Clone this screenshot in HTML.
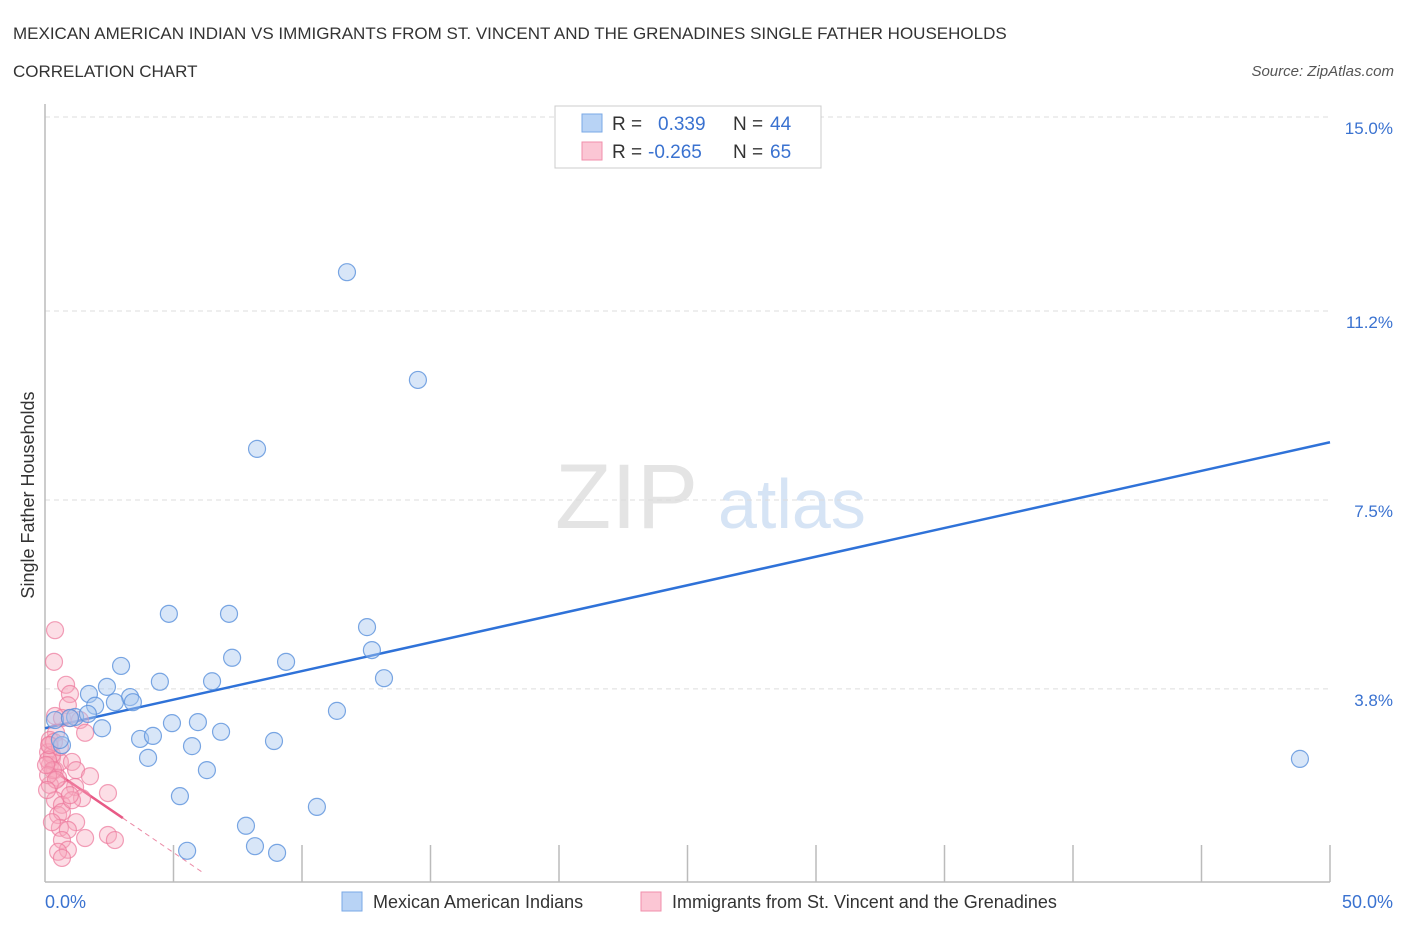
<!DOCTYPE html>
<html><head><meta charset="utf-8"><style>
body{margin:0;background:#fff;font-family:"Liberation Sans",Arial,sans-serif;}
svg text{font-family:"Liberation Sans",Arial,sans-serif;}
</style></head><body>
<svg id="chart" width="1406" height="930" xmlns="http://www.w3.org/2000/svg">
<text x="13" y="39" font-size="17" fill="#333">MEXICAN AMERICAN INDIAN VS IMMIGRANTS FROM ST. VINCENT AND THE GRENADINES SINGLE FATHER HOUSEHOLDS</text>
<text x="13" y="77" font-size="17" fill="#333">CORRELATION CHART</text>
<text x="1394" y="76" font-size="15" fill="#555" font-style="italic" text-anchor="end">Source: ZipAtlas.com</text>
<text x="555" y="528" font-size="92" fill="#e4e4e4" font-family="Liberation Serif">ZIP</text>
<text x="718" y="528" font-size="70" fill="#d6e4f5">atlas</text>
<text transform="translate(34,495) rotate(-90)" font-size="18" fill="#333" text-anchor="middle">Single Father Households</text>
<g id="grid"></g><g id="axes"></g><g id="trend"></g><g id="points"></g>
<g>
<rect x="555" y="106" width="266" height="62" fill="#fff" stroke="#ccc"/>
<rect x="582" y="114" width="20" height="18" fill="#b8d3f5" stroke="#7aa8e6"/>
<rect x="582" y="142" width="20" height="18" fill="#fbc6d4" stroke="#f08fab"/>
<text x="612" y="130" font-size="19" fill="#333">R = </text><text x="658" y="130" font-size="19" fill="#3a72d0">0.339</text>
<text x="733" y="130" font-size="19" fill="#333">N = </text><text x="770" y="130" font-size="19" fill="#3a72d0">44</text>
<text x="612" y="158" font-size="19" fill="#333">R = </text><text x="648" y="158" font-size="19" fill="#3a72d0">-0.265</text>
<text x="733" y="158" font-size="19" fill="#333">N = </text><text x="770" y="158" font-size="19" fill="#3a72d0">65</text>
</g>
<g>
<rect x="342" y="892" width="20" height="19" fill="#b8d3f5" stroke="#7aa8e6"/>
<text x="373" y="908" font-size="18" fill="#333">Mexican American Indians</text>
<rect x="641" y="892" width="20" height="19" fill="#fbc6d4" stroke="#f08fab"/>
<text x="672" y="908" font-size="18" fill="#333">Immigrants from St. Vincent and the Grenadines</text>
</g>
</svg>
<script>
const blueX=[29.26,11.75,14.51,8.25,4.82,7.16,12.53,12.72,7.28,9.38,2.96,13.19,4.47,6.50,2.41,1.71,3.31,2.72,3.42,1.95,11.36,1.17,1.67,4.94,5.95,2.22,6.85,3.70,4.20,8.91,5.72,0.66,4.01,6.30,48.83,5.25,10.58,7.82,5.53,8.17,9.03,0.58,0.39,0.97];
const blueY=[14.82,11.98,9.87,8.52,5.29,5.29,5.03,4.58,4.43,4.35,4.27,4.03,3.96,3.97,3.86,3.72,3.66,3.56,3.56,3.49,3.39,3.27,3.33,3.15,3.17,3.05,2.98,2.84,2.90,2.80,2.70,2.72,2.47,2.23,2.45,1.72,1.51,1.14,0.65,0.74,0.61,2.82,3.21,3.25];
const pinkX=[0.39,0.35,0.82,0.97,0.89,0.39,0.66,0.97,1.36,1.56,0.43,0.19,0.12,0.27,0.19,0.39,0.58,1.05,1.21,1.75,0.51,0.19,1.17,0.78,1.44,0.39,0.66,0.51,0.66,1.21,0.58,0.89,1.56,0.66,2.45,2.72,0.89,0.51,0.66,0.19,0.27,0.12,0.31,0.12,0.43,0.08,1.05,0.27,0.97,2.45,0.58,0.35,0.04,0.16];
const pinkY=[4.97,4.35,3.90,3.72,3.50,3.29,3.25,3.25,3.21,2.96,2.96,2.72,2.58,2.47,2.33,2.23,2.39,2.39,2.23,2.11,2.08,1.94,1.90,1.84,1.68,1.64,1.55,1.35,1.41,1.21,1.10,1.06,0.90,0.86,0.96,0.86,0.67,0.63,0.51,2.82,2.53,2.43,2.23,2.13,2.04,1.84,1.64,1.21,1.74,1.78,2.68,2.78,2.33,2.72];
const yTicks=[3.8,7.5,11.2,15.0];
const yTickLabels=["3.8%","7.5%","11.2%","15.0%"];
const blueTrend=[3.05,8.65];
const pinkTrend=[2.33,-0.343];
const NS="http://www.w3.org/2000/svg";
const X=v=>45+v*25.7, Y=v=>884-v*51.07;
function mk(t,a,p){const e=document.createElementNS(NS,t);for(const k in a)e.setAttribute(k,a[k]);document.getElementById(p).appendChild(e);return e;}
yTicks.forEach((t,i)=>{
  const g=mk('line',{x1:45,x2:1330,y1:Y(t)-1,y2:Y(t)-1,stroke:'#ddd','stroke-dasharray':'5,4'},'grid');
  
  
  const l=mk('text',{x:1393,y:Y(t)+16,'font-size':17,fill:'#3a72d0','text-anchor':'end'},'axes');
  l.textContent=yTickLabels[i];
  
  
});
const ax=mk('line',{x1:45,x2:1330,y1:882,y2:882,stroke:'#bbb','stroke-width':1.5},'axes');


const ay=mk('line',{x1:45,x2:45,y1:104,y2:882,stroke:'#bbb','stroke-width':1.5},'axes');


for(let i=1;i<=10;i++){const t=mk('line',{x1:X(i*5),x2:X(i*5),y1:845,y2:882,stroke:'#bbb','stroke-width':1.5},'axes');

}
const xl0=mk('text',{x:45,y:908,'font-size':18,fill:'#3a72d0'},'axes');xl0.textContent='0.0%';


const xl1=mk('text',{x:1393,y:908,'font-size':18,fill:'#3a72d0','text-anchor':'end'},'axes');xl1.textContent='50.0%';


for(let i=0;i<pinkX.length;i++){const c=mk('circle',{cx:X(pinkX[i]),cy:Y(pinkY[i]),r:8.5,fill:'rgba(247,168,190,0.38)',stroke:'rgba(236,120,155,0.7)','stroke-width':1.2},'points');

}
for(let i=0;i<blueX.length;i++){const c=mk('circle',{cx:X(blueX[i]),cy:Y(blueY[i]),r:8.5,fill:'rgba(168,200,240,0.45)',stroke:'rgba(90,145,220,0.8)','stroke-width':1.2},'points');

}
const bt=mk('line',{x1:X(0),y1:Y(blueTrend[0]),x2:X(50),y2:Y(blueTrend[1]),stroke:'#2f72d8','stroke-width':2.5},'trend');


const pe=3.03, pz=6.2;
const pt=mk('line',{x1:X(0),y1:Y(pinkTrend[0]),x2:X(pe),y2:Y(pinkTrend[0]+pinkTrend[1]*pe),stroke:'#e85a86','stroke-width':2.5},'trend');


const pd=mk('line',{x1:X(pe),y1:Y(pinkTrend[0]+pinkTrend[1]*pe),x2:X(pz),y2:Y(pinkTrend[0]+pinkTrend[1]*pz),stroke:'#eb8aa6','stroke-width':1,'stroke-dasharray':'5,4'},'trend');


</script>
</body></html>
